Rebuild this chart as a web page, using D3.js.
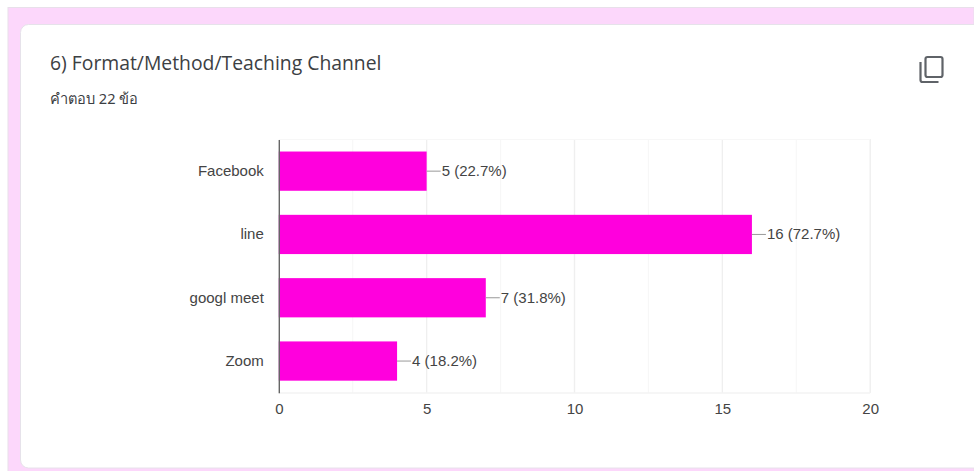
<!DOCTYPE html>
<html>
<head>
<meta charset="utf-8">
<script src="https://cdnjs.cloudflare.com/ajax/libs/d3/7.8.5/d3.min.js"></script>
<style>
  html, body { margin: 0; padding: 0; background: #fff; }
  svg { display: block; }
</style>
</head>
<body>
<svg id="chart" width="974" height="471"></svg>
<script>
const categories = ["Facebook", "line", "googl meet", "Zoom"];
const counts = [5, 16, 7, 4];
const labels = ["5 (22.7%)", "16 (72.7%)", "7 (31.8%)", "4 (18.2%)"];
const xTicks = [0, 5, 10, 15, 20];
const xMinorTicks = [2.5, 7.5, 12.5, 17.5];

const chartFont = "'Liberation Sans', Arial, sans-serif";

const svg = d3.select("#chart");

// page background and card
svg.append("rect").attr("width", 974).attr("height", 471).attr("fill", "#fff");
svg.append("rect").attr("x", 8).attr("y", 7.5).attr("width", 966).attr("height", 464)
    .attr("fill", "#fcd7fb").attr("stroke", "#e8e0ea");
svg.append("rect").attr("x", 20.5).attr("y", 24.5).attr("width", 970).attr("height", 443.5).attr("rx", 8)
    .attr("fill", "#fff").attr("stroke", "#e6e2ea");

svg.append("text").attr("x", 50).attr("y", 70)
    .style("font-family", "'Open Sans', Roboto, sans-serif")
    .style("font-size", "19.35px").attr("fill", "#3c4043")
    .text("6) Format/Method/Teaching Channel");
svg.append("text").attr("x", 50).attr("y", 104)
    .style("font-family", "'Noto Sans', Roboto, sans-serif")
    .style("font-size", "14.6px").attr("fill", "#3c4043")
    .text("คำตอบ 22 ข้อ");

// copy icon
const icon = svg.append("g").attr("fill", "none").attr("stroke", "#5f6368").attr("stroke-width", 2.2);
icon.append("rect").attr("x", 925.5).attr("y", 57).attr("width", 17).attr("height", 20).attr("rx", 2);
icon.append("path").attr("d", "M920.5 62v18a2 2 0 0 0 2 2h16");

const x = d3.scaleLinear().domain([0, 20]).range([278.8, 870.2]);
const y = d3.scaleBand().domain(categories).range([139.5, 392.7]).paddingInner(0.38).paddingOuter(0.19);

svg.append("g").selectAll("line").data(xMinorTicks).enter().append("line")
    .attr("x1", d => x(d)).attr("x2", d => x(d))
    .attr("y1", 139).attr("y2", 393)
    .attr("stroke", "#f7f7f7").attr("stroke-width", 1.2);

svg.append("g").selectAll("line").data(xTicks.slice(1)).enter().append("line")
    .attr("x1", d => x(d)).attr("x2", d => x(d))
    .attr("y1", 139).attr("y2", 393)
    .attr("stroke", "#efefef").attr("stroke-width", 1.4);

// top and bottom borders of the plot
svg.append("line").attr("x1", x(0)).attr("x2", x(20)).attr("y1", 139.5).attr("y2", 139.5)
    .attr("stroke", "#f7f7f7");
svg.append("line").attr("x1", x(0)).attr("x2", x(20)).attr("y1", 393).attr("y2", 393)
    .attr("stroke", "#f3f3f3").attr("stroke-width", 1.5);

svg.selectAll(".bar").data(counts).enter().append("rect")
    .attr("class", "bar")
    .attr("x", x(0))
    .attr("y", (d, i) => y(categories[i]))
    .attr("width", d => x(d) - x(0))
    .attr("height", y.bandwidth())
    .attr("fill", "#ff00dd");

// leader lines and value labels
svg.selectAll(".leader").data(counts).enter().append("line")
    .attr("class", "leader")
    .attr("x1", d => x(d)).attr("x2", d => x(d) + 14)
    .attr("y1", (d, i) => y(categories[i]) + y.bandwidth() / 2)
    .attr("y2", (d, i) => y(categories[i]) + y.bandwidth() / 2)
    .attr("stroke", "#999");

svg.selectAll(".value").data(counts).enter().append("text")
    .attr("class", "value")
    .attr("x", d => x(d) + 15)
    .attr("y", (d, i) => y(categories[i]) + y.bandwidth() / 2 + 5)
    .style("font-family", chartFont).style("font-size", "15px").attr("fill", "#444")
    .text((d, i) => labels[i]);

const yAxis = d3.axisLeft(y).tickSize(0).tickPadding(15);
const yG = svg.append("g").attr("transform", `translate(${x(0)},0)`).call(yAxis);
yG.select(".domain").attr("stroke", "#666").attr("stroke-width", 1.4);
yG.selectAll("text").style("font-family", chartFont).style("font-size", "15px").attr("fill", "#444");

const xAxis = d3.axisBottom(x).tickValues(xTicks).tickSize(0).tickPadding(10);
const xG = svg.append("g").attr("transform", "translate(0,393)").call(xAxis);
xG.select(".domain").remove();
xG.selectAll("text").style("font-family", chartFont).style("font-size", "15px").attr("fill", "#444");
</script>
</body>
</html>
